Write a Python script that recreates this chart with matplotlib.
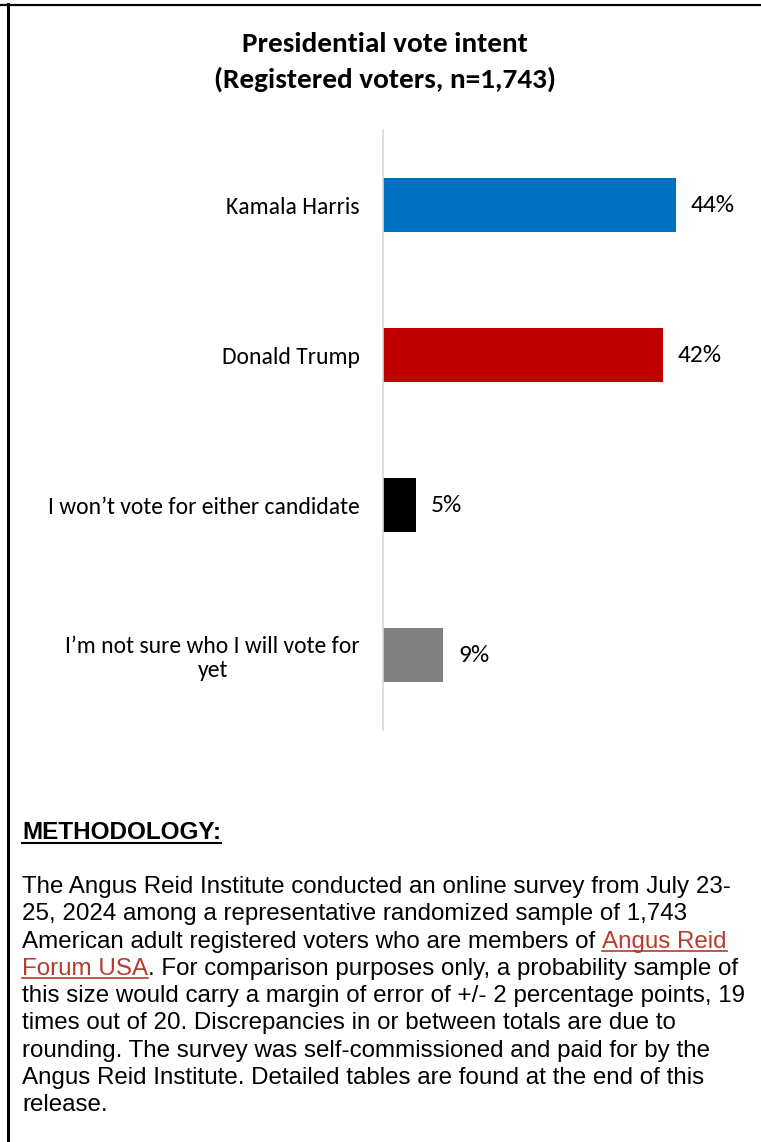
import matplotlib
matplotlib.use("Agg")
import matplotlib.pyplot as plt
from matplotlib import font_manager as fm
from matplotlib.lines import Line2D

# ---------------- data ----------------
categories = ["Kamala Harris", "Donald Trump", "I won\u2019t vote for either candidate",
              "I\u2019m not sure who I will vote for\nyet"]
values = [44, 42, 5, 9]
bar_colors = ["#0070C0", "#C00000", "#000000", "#808080"]
title_lines = ["Presidential vote intent", "(Registered voters, n=1,743)"]
method_title = "METHODOLOGY:"
method_lines = [
    [("The Angus Reid Institute conducted an online survey from July 23-", False)],
    [("25, 2024 among a representative randomized sample of 1,743", False)],
    [("American adult registered voters who are members of ", False), ("Angus Reid", True)],
    [("Forum USA", True), (". For comparison purposes only, a probability sample of", False)],
    [("this size would carry a margin of error of +/- 2 percentage points, 19", False)],
    [("times out of 20. Discrepancies in or between totals are due to", False)],
    [("rounding. The survey was self-commissioned and paid for by the", False)],
    [("Angus Reid Institute. Detailed tables are found at the end of this", False)],
    [("release.", False)],
]

W, H = 761, 1142
DPI = 100
fig = plt.figure(figsize=(W / DPI, H / DPI), dpi=DPI)
fig.patch.set_facecolor("white")


def fx(x):
    return x / W


def fy(y):
    return 1 - y / H


def has_font(name):
    try:
        fm.findfont(fm.FontProperties(family=name), fallback_to_default=False)
        return True
    except Exception:
        return False


chart_font = "Carlito" if has_font("Carlito") else ("Lato" if has_font("Lato") else "DejaVu Sans")
body_font = "Liberation Sans" if has_font("Liberation Sans") else "DejaVu Sans"

renderer = fig.canvas.get_renderer()


def fit_size(text, target_w, family, weight="normal"):
    t = fig.text(0, 0, text, fontsize=10, family=family, weight=weight)
    w = t.get_window_extent(renderer).width
    t.remove()
    return 10 * target_w / w


# ---------------- border ----------------
fig.add_artist(Line2D([0, 1], [fy(4.5), fy(4.5)], transform=fig.transFigure, color="black", lw=1.6))
fig.add_artist(Line2D([fx(8), fx(8)], [fy(4), 0], transform=fig.transFigure, color="black", lw=2.2))

# ---------------- title ----------------
ts = fit_size(title_lines[1], 341, chart_font, "bold")
fig.text(fx(385), fy(52), title_lines[0], ha="center", va="baseline", fontsize=ts,
         family=chart_font, weight="bold")
fig.text(fx(385), fy(88), title_lines[1], ha="center", va="baseline", fontsize=ts,
         family=chart_font, weight="bold")

# ---------------- chart ----------------
px_per_pct = (676 - 383) / 44.0
xmax = 50
ax = fig.add_axes([fx(383), fy(730), xmax * px_per_pct / W, 600 / H])
ypos = list(range(len(categories)))
ax.barh(ypos, values, height=0.36, color=bar_colors)
ax.set_xlim(0, xmax)
ax.set_ylim(len(categories) - 0.5, -0.5)
for s in ["top", "right", "bottom"]:
    ax.spines[s].set_visible(False)
ax.spines["left"].set_color("#D9D9D9")
ax.spines["left"].set_linewidth(1.2)
ax.set_xticks([])
ls = fit_size("Kamala Harris", 134, chart_font)
ax.set_yticks(ypos)
ax.set_yticklabels(categories, fontsize=ls, family=chart_font, color="#000000")
for lab in ax.get_yticklabels():
    lab.set_multialignment("center")
ax.tick_params(axis="y", length=0, pad=23 * 72 / DPI)
vs = fit_size("44%", 44, chart_font)
for i, v in enumerate(values):
    ax.annotate(f"{v}%", (v, i), xytext=(15, 0), textcoords="offset pixels",
                va="center", ha="left", fontsize=vs, family=chart_font, color="#000000")

# ---------------- methodology ----------------
ms = fit_size(method_title, 199, body_font, "bold")
t = fig.text(fx(22), fy(839), method_title, ha="left", va="baseline", fontsize=ms,
             family=body_font, weight="bold")
bb = t.get_window_extent(renderer)
fig.add_artist(Line2D([bb.x0 / W, bb.x1 / W], [fy(843), fy(843)], transform=fig.transFigure,
                      color="black", lw=1.5))

bs = fit_size(method_lines[0][0][0], 711, body_font)
link_color = "#B83B2E"
base0 = 893
step = 27.3
for li, parts in enumerate(method_lines):
    yb = base0 + li * step
    x = 22
    for txt, link in parts:
        t = fig.text(fx(x), fy(yb), txt, ha="left", va="baseline", fontsize=bs, family=body_font,
                     color=link_color if link else "black")
        e = t.get_window_extent(renderer)
        if link:
            fig.add_artist(Line2D([fx(x), fx(x + e.width)], [fy(yb + 3), fy(yb + 3)],
                                  transform=fig.transFigure, color=link_color, lw=1.2))
        x += e.width

fig.savefig("out.png", dpi=DPI)
